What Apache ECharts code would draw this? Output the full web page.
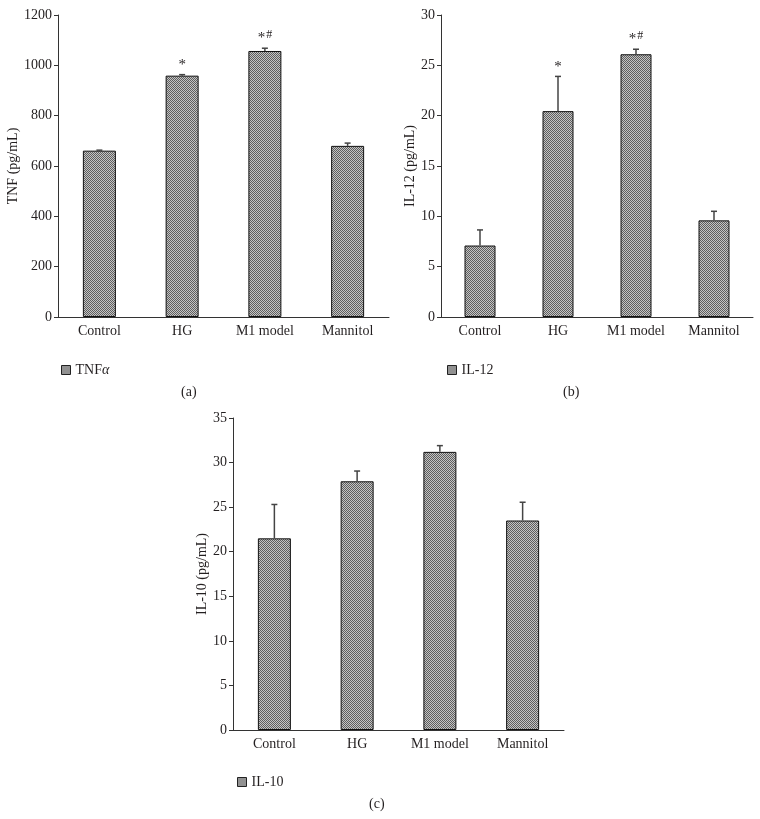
<!DOCTYPE html>
<html>
<head>
<meta charset="utf-8">
<script src="https://cdn.jsdelivr.net/npm/echarts@6/dist/echarts.min.js"></script>
<style>html,body{margin:0;padding:0;background:#fff}#c{width:760px;height:819px}</style>
</head>
<body>
<div id="c"></div>
<script>
const categories = ['Control', 'HG', 'M1 model', 'Mannitol'];
const tnfMean = [661, 959, 1057, 680];
const tnfSd = [2, 4, 11, 11];
const tnfMarks = ['', '*', '*#', ''];
const il12Mean = [7.1, 20.45, 26.1, 9.6];
const il12Sd = [1.55, 3.45, 0.5, 0.9];
const il12Marks = ['', '*', '*#', ''];
const il10Mean = [21.5, 27.9, 31.2, 23.5];
const il10Sd = [3.8, 1.15, 0.7, 2.05];
const il10Marks = ['', '', '', ''];

const FONT = '"Liberation Serif", "DejaVu Serif", serif';
const TXT = '#231f20';
const FS = 14;

// checkered fill pattern
const pc = document.createElement('canvas');
pc.width = 2; pc.height = 2;
const pctx = pc.getContext('2d');
pctx.fillStyle = '#c4c4c4'; pctx.fillRect(0, 0, 2, 2);
pctx.fillStyle = '#5e5e5e'; pctx.fillRect(0, 0, 1, 1); pctx.fillRect(1, 1, 1, 1);
const pattern = { image: pc, repeat: 'repeat' };

const chart = echarts.init(document.getElementById('c'), null, { renderer: 'canvas' });

const grids = [
  { left: 58, top: 15, width: 331, height: 302 },
  { left: 441, top: 15, width: 312, height: 302 },
  { left: 233, top: 418, width: 331, height: 312 }
];
const yCfg = [
  { max: 1200, interval: 200, name: 'TNF (pg/mL)', gap: 32 },
  { max: 30, interval: 5, name: 'IL-12 (pg/mL)', gap: 18 },
  { max: 35, interval: 5, name: 'IL-10 (pg/mL)', gap: 22 }
];
const means = [tnfMean, il12Mean, il10Mean];
const sds = [tnfSd, il12Sd, il10Sd];
const marks = [tnfMarks, il12Marks, il10Marks];
const names = ['TNFα', 'IL-12', 'IL-10'];
const barW = [33, 31, 33];

const xAxis = grids.map((g, i) => ({
  type: 'category', gridIndex: i, data: categories,
  axisLine: { lineStyle: { color: '#333', width: 1 } },
  axisTick: { inside: true, length: 5, lineStyle: { color: '#333' } },
  axisLabel: { color: TXT, fontFamily: FONT, fontSize: FS, margin: 7 }
}));
const yAxis = yCfg.map((c, i) => ({
  type: 'value', gridIndex: i, min: 0, max: c.max, interval: c.interval,
  name: c.name, nameLocation: 'middle', nameRotate: 90, nameGap: c.gap,
  nameTextStyle: { color: TXT, fontFamily: FONT, fontSize: FS },
  axisLine: { show: true, lineStyle: { color: '#333', width: 1 } },
  axisTick: { show: true, length: 4, lineStyle: { color: '#333' } },
  splitLine: { show: false },
  axisLabel: { color: TXT, fontFamily: FONT, fontSize: FS, margin: 6,
    formatter: function (v) { return String(v); } }
}));

const series = [];
for (let i = 0; i < 3; i++) {
  series.push({
    type: 'bar', name: names[i], xAxisIndex: i, yAxisIndex: i,
    data: means[i], barWidth: barW[i],
    itemStyle: { color: pattern, borderColor: '#111', borderWidth: 1 }
  });
  const errData = means[i].map((m, k) => [k, m + sds[i][k], m, marks[i][k]]);
  series.push({
    type: 'custom', xAxisIndex: i, yAxisIndex: i, data: errData, z: 5,
    renderItem: function (params, api) {
      const x = api.value(0);
      const top = api.value(1);
      const base = api.value(2);
      const mk = errData[params.dataIndex][3];
      const p1 = api.coord([x, base]);
      const p2 = api.coord([x, top]);
      const children = [
        { type: 'line', shape: { x1: p1[0], y1: p1[1], x2: p2[0], y2: p2[1] }, style: { stroke: '#444', lineWidth: 1.5 } },
        { type: 'line', shape: { x1: p2[0] - 3, y1: p2[1], x2: p2[0] + 3, y2: p2[1] }, style: { stroke: '#444', lineWidth: 1.5 } }
      ];
      if (mk) {
        children.push({
          type: 'text', x: p2[0], y: p2[1] - 2,
          style: {
            text: mk === '*#' ? '{s|*}{h|#}' : '{s|*}',
            align: 'center', verticalAlign: 'bottom',
            rich: {
              s: { fontFamily: FONT, fontSize: 15, fill: TXT },
              h: { fontFamily: FONT, fontSize: 12, fill: TXT, padding: [0, 0, 5, 1] }
            }
          }
        });
      }
      return { type: 'group', children: children };
    }
  });
}

const legendPos = [{ left: 56, top: 358 }, { left: 442, top: 358 }, { left: 232, top: 770 }];
const legend = legendPos.map((p, i) => ({
  data: [names[i]], left: p.left, top: p.top, orient: 'horizontal',
  icon: 'rect', itemWidth: 9, itemHeight: 9, itemGap: 8,
  itemStyle: { borderColor: '#222', borderWidth: 1 },
  textStyle: { color: TXT, fontFamily: FONT, fontSize: FS,
    rich: { i: { fontStyle: 'italic', fontFamily: FONT, fontSize: FS, color: TXT } } },
  formatter: function (n) { return n === 'TNFα' ? 'TNF{i|α}' : n; },
  selectedMode: false
}));

chart.setOption({
  animation: false,
  backgroundColor: '#fff',
  grid: grids,
  xAxis: xAxis,
  yAxis: yAxis,
  legend: legend,
  series: series,
  graphic: [
    { type: 'text', left: 181, top: 385, style: { text: '(a)', fontFamily: FONT, fontSize: FS, fill: TXT } },
    { type: 'text', left: 563, top: 385, style: { text: '(b)', fontFamily: FONT, fontSize: FS, fill: TXT } },
    { type: 'text', left: 369, top: 797, style: { text: '(c)', fontFamily: FONT, fontSize: FS, fill: TXT } }
  ]
});
</script>
</body>
</html>
